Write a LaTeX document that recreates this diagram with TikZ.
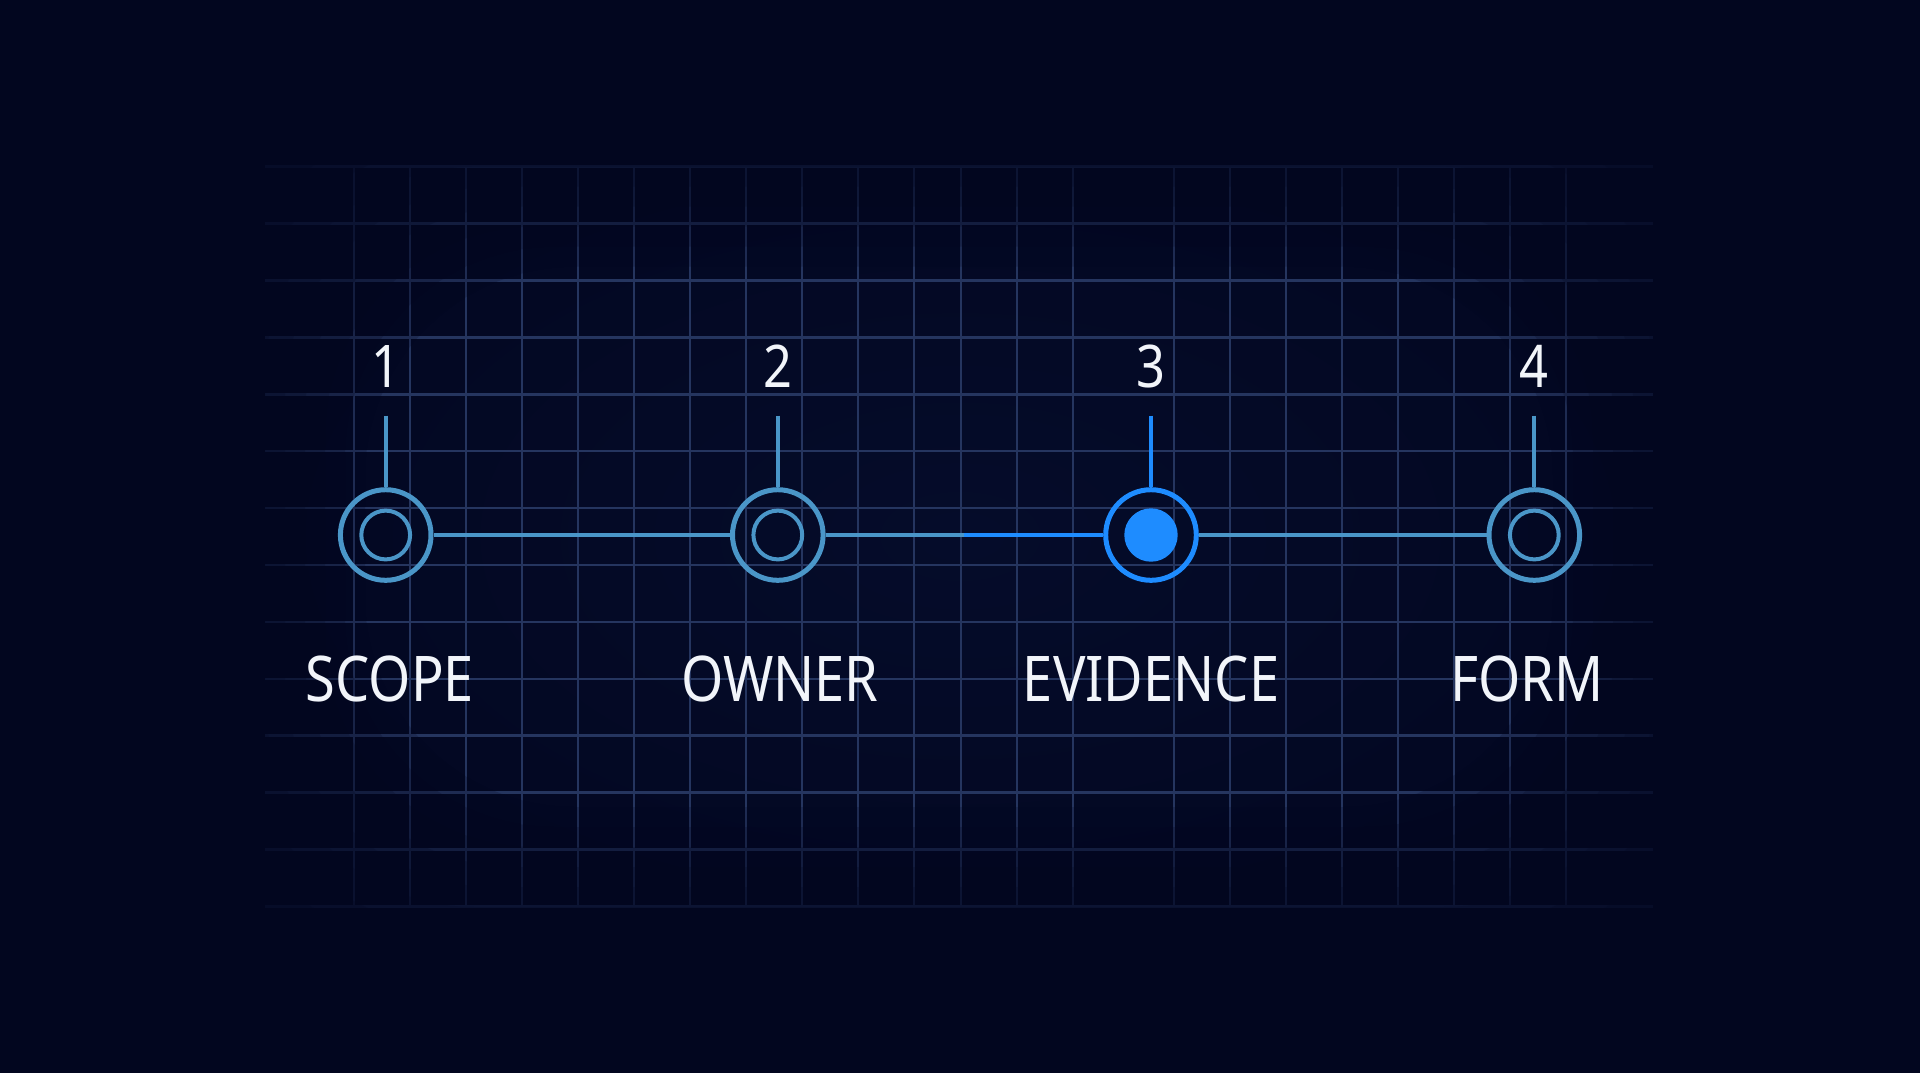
\documentclass[tikz,border=0pt]{standalone}
\usepackage{fontspec}
\setmainfont[FakeStretch=0.86]{Noto Sans}
\usetikzlibrary{calc}
\definecolor{bgdeep}{HTML}{02061F}
\definecolor{bgglow}{HTML}{050C2A}
\definecolor{gridline}{HTML}{25355F}
\definecolor{steel}{HTML}{4A96C8}
\definecolor{active}{HTML}{1E8CFF}
\definecolor{labelwhite}{HTML}{F2F5FA}
\tikzset{
  stage ring/.style={
    circle,
    draw=#1,
    line width=2.5pt,
    minimum size=45.3pt,
    inner sep=0pt,
  },
  stage core/.style={
    circle,
    draw=steel,
    line width=2pt,
    minimum size=24.4pt,
    inner sep=0pt,
  },
  stage dot/.style={
    circle,
    fill=active,
    minimum size=26.7pt,
    inner sep=0pt,
  },
  link/.style={
    draw=#1,
    line width=2pt,
  },
  numeral/.style={
    text=labelwhite,
    anchor=base,
    font=\fontsize{29.4}{34}\selectfont,
  },
  caption/.style={
    text=labelwhite,
    anchor=base,
    font=\fontsize{31.5}{36}\selectfont,
  },
  veil/.style={
    fill=bgdeep,
    fill opacity=0.2,
    even odd rule,
  },
}

\begin{document}
\begin{tikzpicture}[x=0.5pt,y=-0.5pt]
        \fill[bgdeep] (0,0) rectangle (1920,1072);
        \shade[inner color=bgglow, outer color=bgdeep] (0,0) rectangle (1920,1072);

        % grid
        \draw[gridline, line width=1.25pt]
          foreach \x in {354,410,466,522,578,634,690,746,802,858,914,961,1017,1073,1174,1230,1286,1342,1398,1454,1510,1566}
            {(\x,166.7) -- (\x,907)}
          foreach \k in {0,...,13}
            {(265,{166.7+56.9*\k}) -- (1653,{166.7+56.9*\k})};
        % fade the grid out towards its rim
        \foreach \d in {100,80,...,-40}
          \fill[veil] (0,0) rectangle (1920,1072)
            [rounded corners=105pt] (265+\d,166.7+\d) rectangle (1653-\d,907-\d);

        \node [stage ring=steel] (s1) at (385.7,535) {};
        \node [stage ring=steel] (s2) at (777.8,535) {};
        \node [stage ring=active] (s3) at (1151,535) {};
        \node [stage ring=steel] (s4) at (1534.3,535) {};

        \node [stage core] (c1) at (s1) {};
        \node [stage core] (c2) at (s2) {};
        \node [stage dot] (c3) at (s3) {};
        \node [stage core] (c4) at (s4) {};

        \coordinate (half) at ($(s2)!0.5!(s3)$);
        \draw [link=steel] (s1) -- (s2);
        \draw [link=steel] (s2) -- (half);
        \draw [link=active] (half) -- (s3);
        \draw [link=steel] (s3) -- (s4);

        \coordinate (t1) at (385.7,415.7);
        \coordinate (t2) at (777.8,415.7);
        \coordinate (t3) at (1151,415.7);
        \coordinate (t4) at (1534.3,415.7);
        \draw [link=steel] (t1) -- (s1);
        \draw [link=steel] (t2) -- (s2);
        \draw [link=active] (t3) -- (s3);
        \draw [link=steel] (t4) -- (s4);

        \node [numeral] (n1) at (385.7,387.5) {1};
        \node [numeral] (n2) at (777.8,387.5) {2};
        \node [numeral] (n3) at (1151,387.5) {3};
        \node [numeral] (n4) at (1534.3,387.5) {4};

        \node [caption] (l1) at (390,701) {SCOPE};
        \node [caption] (l2) at (780,701) {OWNER};
        \node [caption] (l3) at (1151,701) {EVIDENCE};
        \node [caption] (l4) at (1527,701) {FORM};
      \end{tikzpicture}
\end{document}
